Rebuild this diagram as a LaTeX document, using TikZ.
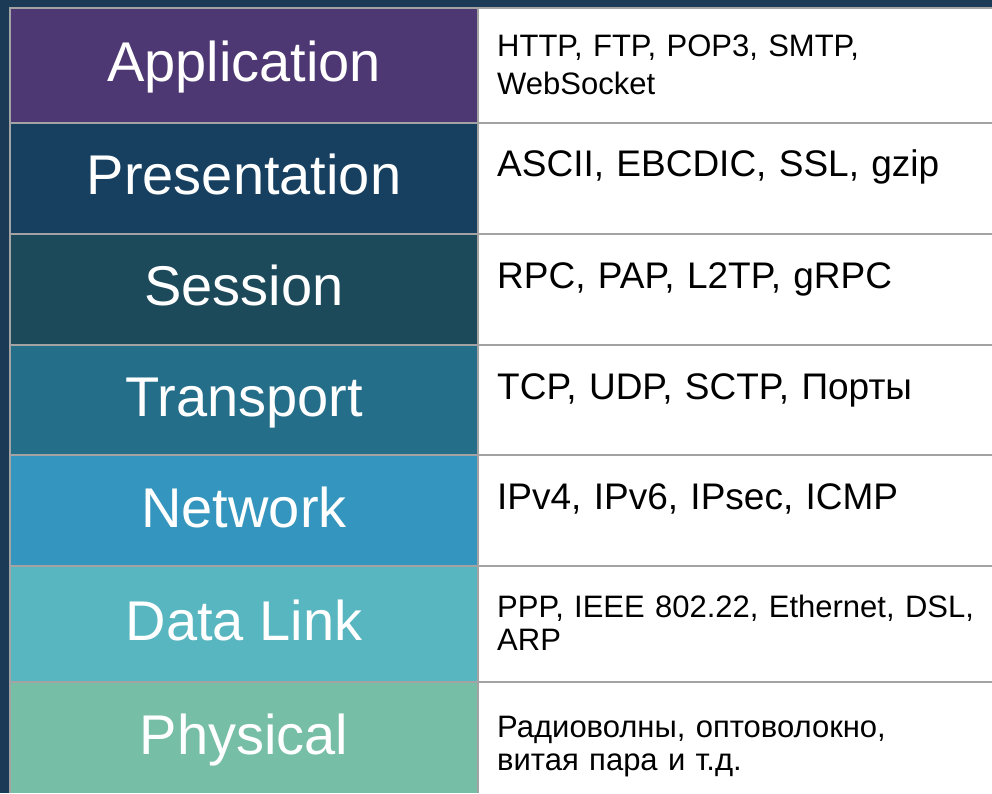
\documentclass[tikz,border=0pt]{standalone}
\usepackage{fontspec}
\setmainfont{Liberation Sans}
\definecolor{bgnavy}{HTML}{1B3A56}
\definecolor{appcol}{HTML}{4E3873}
\definecolor{prescol}{HTML}{163F60}
\definecolor{sesscol}{HTML}{1D4A5B}
\definecolor{transcol}{HTML}{246E8A}
\definecolor{netcol}{HTML}{3496BE}
\definecolor{linkcol}{HTML}{58B6C0}
\definecolor{physcol}{HTML}{76BEA6}
\definecolor{gridgray}{HTML}{A3A3A3}
\begin{document}
\begin{tikzpicture}[x=1pt, y=-1pt,
    layer/.style={text=white, anchor=base, inner sep=0pt, font=\fontsize{56}{60}\selectfont},
    proto/.style={text=black, anchor=base west, align=left, text width=490pt, inner sep=0pt},
    oneline/.style={proto, font=\fontsize{37}{44}\selectfont},
    twoline/.style={proto, font=\fontsize{31}{33}\selectfont},
    gridline/.style={gridgray, line width=2pt}]
    % Background
    \useasboundingbox (0,0) rectangle (992,793);
    \fill[bgnavy] (0,0) rectangle (992,793);
    
    % Layer cells
    \fill[appcol]   (10,8)   rectangle (478,123);
    \fill[prescol]  (10,123) rectangle (478,234);
    \fill[sesscol]  (10,234) rectangle (478,345);
    \fill[transcol] (10,345) rectangle (478,455);
    \fill[netcol]   (10,455) rectangle (478,566);
    \fill[linkcol]  (10,566) rectangle (478,682);
    \fill[physcol]  (10,682) rectangle (478,793);
    \fill[white]    (478,8)  rectangle (992,793);
    
    % Grid
    \draw[gridline] (10,793) -- (10,8) -- (992,8);
    \draw[gridline] (478,8) -- (478,793);
    \draw[gridline] (10,123) -- (992,123);
    \draw[gridline] (10,234) -- (992,234);
    \draw[gridline] (10,345) -- (992,345);
    \draw[gridline] (10,455) -- (992,455);
    \draw[gridline] (10,566) -- (992,566);
    \draw[gridline] (10,682) -- (992,682);
    
    % Layer names
    \node[layer] (app)   at (244,81)  {Application};
    \node[layer] (pres)  at (244,194) {Presentation};
    \node[layer] (sess)  at (244,305) {Session};
    \node[layer] (trans) at (244,416) {Transport};
    \node[layer] (net)   at (244,527) {Network};
    \node[layer] (link)  at (244,640) {Data Link};
    \node[layer] (phys)  at (244,754) {Physical};
    
    % Protocols
    \node[proto, font=\fontsize{31}{38}\selectfont] (appproto) at (497,56)
        {HTTP, FTP, POP3, SMTP,\\WebSocket};
    \node[oneline] (presproto)  at (497,176) {ASCII, EBCDIC, SSL, gzip};
    \node[oneline] (sessproto)  at (497,288) {RPC, PAP, L2TP, gRPC};
    \node[oneline] (transproto) at (497,399) {TCP, UDP, SCTP, Порты};
    \node[oneline] (netproto)   at (497,509) {IPv4, IPv6, IPsec, ICMP};
    \node[twoline] (linkproto)  at (497,617)
        {PPP, IEEE 802.22, Ethernet, DSL,\\ARP};
    \node[twoline] (physproto)  at (497,737)
        {Радиоволны, оптоволокно,\\витая пара и т.д.};
\end{tikzpicture}
\end{document}
